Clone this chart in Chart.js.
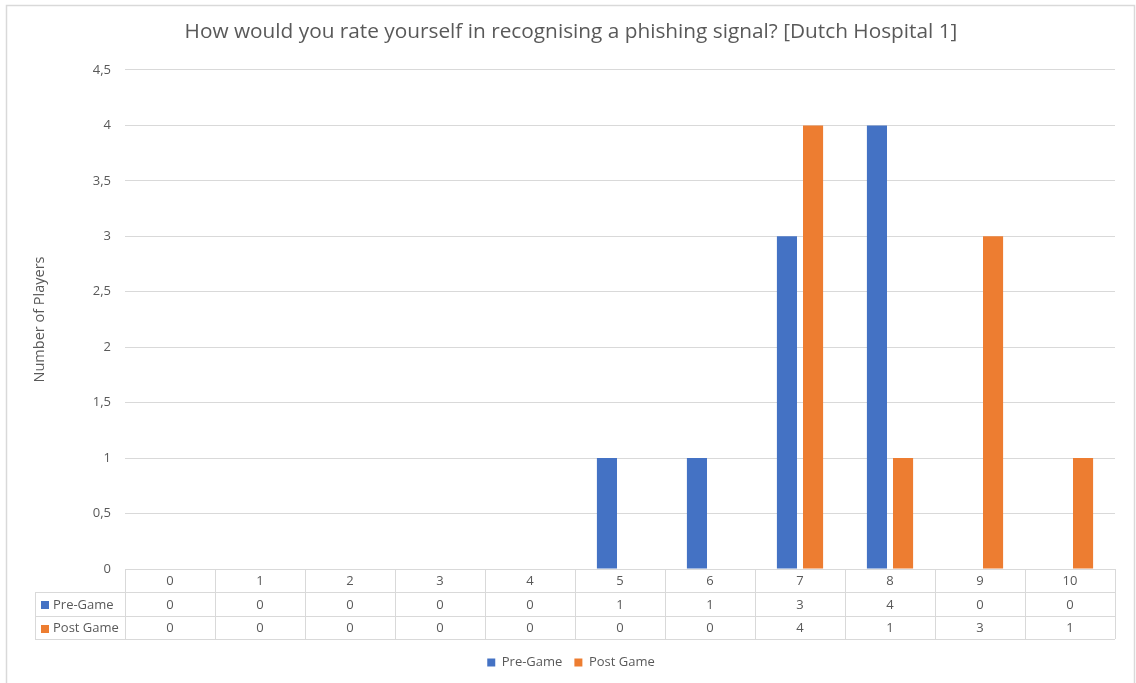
<!DOCTYPE html>
<html>
<head>
<meta charset="utf-8">
<script src="https://cdn.jsdelivr.net/npm/chart.js@4"></script>
<style>
  html, body { margin: 0; padding: 0; background: #fff; }
  #wrap { width: 1136px; height: 683px; }
</style>
</head>
<body>
<div id="wrap"><canvas id="ratingChart" width="1136" height="683"></canvas></div>
<script>
const ratings = ["0", "1", "2", "3", "4", "5", "6", "7", "8", "9", "10"];
const preGame = [0, 0, 0, 0, 0, 1, 1, 3, 4, 0, 0];
const postGame = [0, 0, 0, 0, 0, 0, 0, 4, 1, 3, 1];
const yTicks = ["0", "0,5", "1", "1,5", "2", "2,5", "3", "3,5", "4", "4,5"];

const FONT = "'Open Sans', 'Noto Sans', sans-serif";
const TEXT = "#595959";
const LINE = "#d9d9d9";

// frame + white background
const framePlugin = {
  id: "frame",
  beforeDraw(chart) {
    const { ctx, width, height } = chart;
    ctx.save();
    ctx.fillStyle = "#fff";
    ctx.fillRect(0, 0, width, height);
    ctx.strokeStyle = LINE;
    ctx.lineWidth = 1.5;
    ctx.strokeRect(6.5, 5.5, width - 8, height + 10);
    ctx.restore();
  },
};

// data table under the plot
const dataTablePlugin = {
  id: "dataTable",
  afterDraw(chart) {
    const { ctx, chartArea } = chart;
    const x = chart.scales.x;
    const top = chartArea.bottom;
    const rowH = [23, 24, 23];
    const y1 = top + rowH[0];
    const y2 = y1 + rowH[1];
    const y3 = y2 + rowH[2];
    const left = chartArea.left;
    const right = chartArea.right;
    const tableLeft = 35;
    const step = (right - left) / ratings.length;

    ctx.save();
    ctx.strokeStyle = LINE;
    ctx.lineWidth = 1;
    ctx.beginPath();
    ctx.moveTo(left, top + 0.5); ctx.lineTo(right, top + 0.5);
    [y1, y2, y3].forEach((yy) => { ctx.moveTo(tableLeft, yy + 0.5); ctx.lineTo(right, yy + 0.5); });
    for (let i = 0; i <= ratings.length; i++) {
      const xx = Math.round(left + step * i) + 0.5;
      ctx.moveTo(xx, top); ctx.lineTo(xx, y3);
    }
    ctx.moveTo(tableLeft + 0.5, y1); ctx.lineTo(tableLeft + 0.5, y3);
    ctx.stroke();

    ctx.font = "13px " + FONT;
    ctx.fillStyle = TEXT;
    ctx.textAlign = "center";
    ctx.textBaseline = "middle";
    ratings.forEach((r, i) => {
      const cx = x.getPixelForValue(i);
      ctx.fillText(r, cx, top + rowH[0] / 2 + 1);
      ctx.fillText(String(preGame[i]), cx, y1 + rowH[1] / 2 + 1);
      ctx.fillText(String(postGame[i]), cx, y2 + rowH[2] / 2 + 1);
    });

    const series = [
      { name: "Pre-Game", color: "#4472C4", y: y1 + rowH[1] / 2 },
      { name: "Post Game", color: "#ED7D31", y: y2 + rowH[2] / 2 },
    ];
    ctx.textAlign = "left";
    series.forEach((s) => {
      ctx.fillStyle = s.color;
      ctx.fillRect(tableLeft + 6, Math.round(s.y - 3), 8, 8);
      ctx.fillStyle = TEXT;
      ctx.fillText(s.name, tableLeft + 18, s.y + 1);
    });
    ctx.restore();
  },
};

new Chart(document.getElementById("ratingChart"), {
  type: "bar",
  data: {
    labels: ratings,
    datasets: [
      { label: "Pre-Game", data: preGame, backgroundColor: "#4472C4", categoryPercentage: 0.58, barPercentage: 0.77 },
      { label: "Post Game", data: postGame, backgroundColor: "#ED7D31", categoryPercentage: 0.58, barPercentage: 0.77 },
    ],
  },
  options: {
    responsive: false,
    animation: false,
    layout: { padding: { left: 27, right: 21, top: 10, bottom: 4 } },
    plugins: {
      title: {
        display: true,
        text: "How would you rate yourself in recognising a phishing signal? [Dutch Hospital 1]",
        color: TEXT,
        font: { family: FONT, size: 20.8, weight: "normal" },
        padding: { top: 10, bottom: 25 },
      },
      legend: {
        position: "bottom",
        labels: {
          color: TEXT,
          font: { family: FONT, size: 13 },
          boxWidth: 8,
          boxHeight: 8,
          padding: 12,
        },
      },
      tooltip: { enabled: false },
    },
    scales: {
      x: {
        grid: { display: false },
        border: { display: false },
        ticks: { display: false },
        afterFit: (scale) => { scale.height = 75; },
      },
      y: {
        min: 0,
        max: 4.5,
        grid: { color: LINE, drawTicks: false },
        border: { display: false },
        ticks: {
          stepSize: 0.5,
          padding: 14,
          color: TEXT,
          font: { family: FONT, size: 13 },
          callback: (v, i) => yTicks[i],
        },
        title: {
          display: true,
          text: "Number of Players",
          color: TEXT,
          font: { family: FONT, size: 14.5 },
        },
        afterFit: (scale) => { scale.width = 98; },
      },
    },
  },
  plugins: [framePlugin, dataTablePlugin],
});
</script>
</body>
</html>
